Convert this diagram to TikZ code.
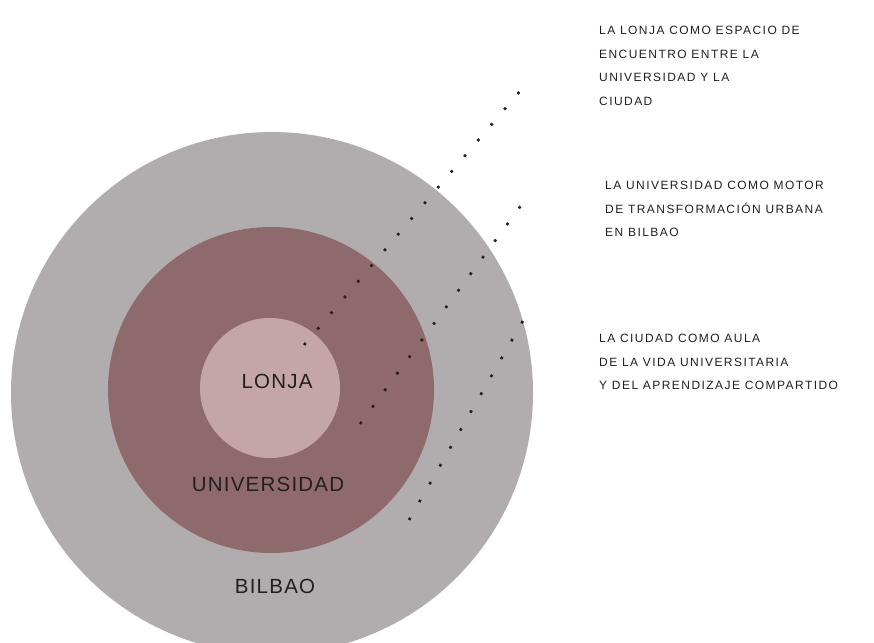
\documentclass[tikz,border=0pt]{standalone}
\usepackage{fontspec}
\setmainfont{Liberation Sans}
\newfontfamily\labelfont[LetterSpace=6]{Liberation Sans}
\newfontfamily\notefont[LetterSpace=12]{Liberation Sans}
\usepackage{xcolor}
\usetikzlibrary{positioning,calc}
\definecolor{cityGray}{HTML}{B1ADAE}
\definecolor{uniMauve}{HTML}{8F6A6D}
\definecolor{coreRose}{HTML}{C5A6A8}
\definecolor{inkDark}{HTML}{231F20}

\begin{document}
\begin{tikzpicture}[x=1pt,y=-1pt,
  ring/.style={circle,inner sep=0pt,draw=none},
  ringlabel/.style={font=\labelfont\fontsize{20.5}{24}\selectfont,text=inkDark,inner sep=0pt},
  note/.style={anchor=north west,align=left,inner sep=0pt,text=inkDark,
    font=\notefont\fontsize{12}{23.5}\selectfont},
  pointer/.style={draw=inkDark,line width=2.6pt,dash pattern=on 2.6pt off 18pt}
]
\useasboundingbox (0,0) rectangle (874,642);
\clip (0,0) rectangle (874,642);
\node[ring,fill=cityGray,minimum size=522pt] (bilbao) at (272,393) {};
\node[ring,fill=uniMauve,minimum size=326pt] (uni) at (271,390) {};
\node[ring,fill=coreRose,minimum size=140pt] (core) at (270,388) {};
\node[ringlabel] (coreLbl) at (277,381) {LONJA};
\node[ringlabel] (uniLbl) at (268,484) {UNIVERSIDAD};
\node[ringlabel] (cityLbl) at (275,586) {BILBAO};
\node[note] (note1) at (599,26) {LA LONJA COMO ESPACIO DE\\ENCUENTRO ENTRE LA\\UNIVERSIDAD Y LA\\CIUDAD};
\node[note] (note2) at (605,181) {LA UNIVERSIDAD COMO MOTOR\\DE TRANSFORMACIÓN URBANA\\EN BILBAO};
\node[note] (note3) at (599,334) {LA CIUDAD COMO AULA\\DE LA VIDA UNIVERSITARIA\\Y DEL APRENDIZAJE COMPARTIDO};
% dotted pointers
\coordinate (p1a) at (304,345);
\coordinate (p1b) at (526,84);
\coordinate (p2a) at (360,424);
\coordinate (p2b) at (528,196);
\coordinate (p3a) at (409,520);
\coordinate (p3b) at (528,312);
\draw[pointer] (p1a) -- (p1b);
\draw[pointer] (p2a) -- (p2b);
\draw[pointer] (p3a) -- (p3b);
\end{tikzpicture}
\end{document}
